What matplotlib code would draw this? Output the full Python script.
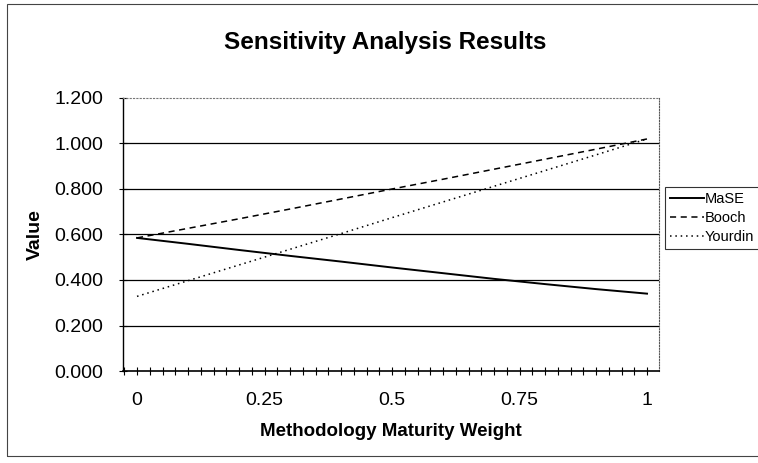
import numpy as np
import matplotlib.pyplot as plt
from matplotlib.patches import Rectangle
from matplotlib.ticker import MultipleLocator

plt.rcParams['font.family'] = ['Liberation Sans', 'DejaVu Sans']

# pesos de madurez y valores
weights = [0.0, 0.1, 0.2, 0.3, 0.4, 0.5, 0.6, 0.7, 0.8, 0.9, 1.0]
mase = [0.585, 0.559, 0.532, 0.506, 0.481, 0.455, 0.430, 0.405, 0.382, 0.360, 0.340]
booch = [0.585, 0.627, 0.669, 0.712, 0.756, 0.800, 0.843, 0.887, 0.931, 0.975, 1.020]
yourdin = [0.328, 0.397, 0.466, 0.535, 0.604, 0.674, 0.743, 0.812, 0.881, 0.950, 1.020]

x_labels = ["0", "0.25", "0.5", "0.75", "1"]
x_label_pos = [0, 0.25, 0.5, 0.75, 1]
y_ticks = [0.0, 0.2, 0.4, 0.6, 0.8, 1.0, 1.2]

fig = plt.figure(figsize=(7.58, 4.63), dpi=100)
ax = fig.add_axes([123 / 758, 92 / 463, 536 / 758, 273 / 463])

# grilla horizontal
for v in y_ticks[1:-1]:
    ax.axhline(v, color="black", lw=0.9, zorder=1)

ax.plot(weights, mase, color="black", lw=1.4, label="MaSE", zorder=3)
ax.plot(weights, booch, color="black", lw=1.1, ls=(0, (4, 3)), label="Booch", zorder=3)
ax.plot(weights, yourdin, color="black", lw=1.1, ls=(0, (1, 2.5)), label="Yourdin", zorder=3)

ax.set_xlim(-0.0275, 1.0235)
ax.set_ylim(0, 1.2)
ax.set_yticks(y_ticks)
ax.set_yticklabels(["%.3f" % v for v in y_ticks])
ax.set_xticks(x_label_pos)
ax.set_xticklabels(x_labels)
ax.xaxis.set_minor_locator(MultipleLocator(0.025))
ax.tick_params(axis="x", which="both", direction="inout", length=6, width=0.8, pad=12, labelsize=14)
ax.tick_params(axis="y", direction="inout", length=6, width=0.8, pad=11, labelsize=14)

ax.spines["left"].set_linewidth(1.0)
ax.spines["bottom"].set_linewidth(1.2)
ax.spines["top"].set_color("#777777")
ax.spines["top"].set_linestyle((0, (1, 2)))
ax.spines["right"].set_color("#555555")
ax.spines["right"].set_linestyle((0, (1, 1.5)))

ax.set_xlabel("Methodology Maturity Weight", fontsize=13.5, fontweight="bold", labelpad=10)
ax.set_ylabel("Value", fontsize=14, fontweight="bold", labelpad=8)
fig.text(0.508, 0.908, "Sensitivity Analysis Results", ha="center", va="center",
         fontsize=17.5, fontweight="bold")

leg = fig.legend(loc="upper left", bbox_to_anchor=(665 / 758, 1 - 187 / 463), fontsize=10.5,
                 frameon=True, fancybox=False, handlelength=2.3, handletextpad=0.1,
                 borderpad=0.35, labelspacing=0.35, borderaxespad=0)
leg.get_frame().set_edgecolor("black")
leg.get_frame().set_linewidth(0.8)

# borde exterior del area del grafico
fig.patches.append(Rectangle((0.009, 0.016), 1.2, 0.976, transform=fig.transFigure,
                             fill=False, edgecolor="#444444", lw=0.8))

fig.savefig("out.png", dpi=100)
